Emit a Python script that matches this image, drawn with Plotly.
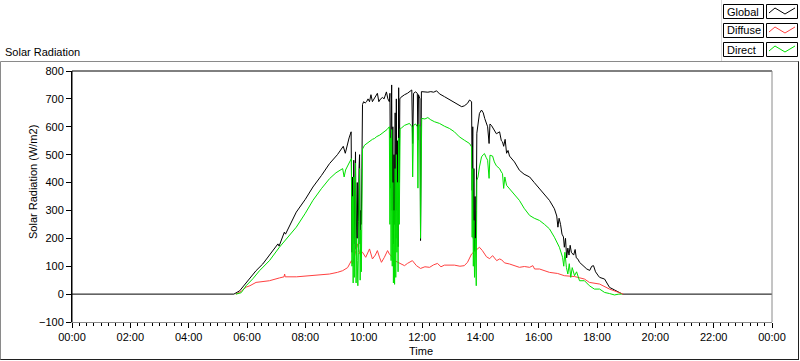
import plotly.graph_objects as go

# ---------------- data (hours of day, W/m2) ----------------
global_t = [0, 5.55, 5.75, 5.97, 6.31, 6.54, 6.77, 7.06, 7.1, 7.28, 7.32, 7.69, 8.0, 8.26, 8.55, 8.83, 9.1, 9.3, 9.37, 9.42, 9.5, 9.57,
            9.6, 9.62, 9.64, 9.66, 9.68, 9.7, 9.72, 9.74, 9.76, 9.78, 9.8, 9.82, 9.84, 9.86, 9.88, 9.9, 9.92, 9.94, 9.96,
            10.0, 10.05, 10.1, 10.15, 10.2, 10.25, 10.3, 10.35, 10.4, 10.47, 10.52, 10.58, 10.65, 10.7, 10.78, 10.83, 10.88,
            10.9, 10.92, 10.94, 10.96, 10.98, 11.0, 11.02, 11.04, 11.06, 11.08, 11.1, 11.12, 11.14, 11.16, 11.18, 11.2, 11.22, 11.24,
            11.27, 11.32, 11.4, 11.5, 11.58, 11.65, 11.68, 11.71, 11.78, 11.84, 11.86, 11.88, 11.93, 11.95, 11.98,
            12.1, 12.2, 12.3, 12.4, 12.5, 12.6, 12.77, 12.9, 13.0, 13.11, 13.25, 13.36, 13.45, 13.56, 13.63,
            13.7, 13.72, 13.74, 13.76, 13.78, 13.8, 13.82, 13.84, 13.86, 13.88, 13.92, 13.97, 14.04, 14.1, 14.15, 14.2, 14.25,
            14.3, 14.33, 14.38, 14.48, 14.55, 14.66, 14.72, 14.76, 14.8, 14.85, 14.9, 14.95, 15.0, 15.17, 15.34, 15.5, 15.69,
            15.85, 16.03, 16.2, 16.37, 16.54, 16.62, 16.66, 16.7, 16.75, 16.8, 16.85, 16.88, 16.92, 16.96, 17.0, 17.04, 17.08,
            17.12, 17.2, 17.25, 17.29, 17.35, 17.4, 17.5, 17.57, 17.65, 17.75, 17.82, 17.88, 17.95, 18.05, 18.09, 18.26, 18.35,
            18.43, 18.6, 18.77, 18.87, 24]
global_v = [0, 0, 12, 42, 84, 108, 138, 180, 172, 222, 215, 294, 340, 384, 425, 468, 500, 530, 505, 530, 560, 582,
            150, 420, 200, 480, 180, 350, 510, 160, 300, 400, 200, 260, 450, 500, 180, 300, 250, 420, 680,
            690, 685, 690, 700, 690, 715, 690, 700, 705, 720, 690, 700, 705, 700, 725, 700, 690,
            720, 380, 740, 750, 300, 600, 180, 500, 250, 650, 200, 700, 300, 550, 170, 740, 400, 700,
            705, 710, 715, 720, 725, 732, 540, 720, 725, 720, 552, 715, 700, 192, 726,
            725, 724, 726, 724, 729, 718, 708, 700, 695, 690, 680, 672, 675, 684, 696,
            690, 372, 600, 200, 450, 156, 350, 180, 300, 577, 610, 648, 660, 650, 630, 612, 600,
            540, 610, 605, 588, 575, 582, 550, 546, 530, 555, 505, 515, 495, 474, 444, 430, 420,
            400, 378, 358, 336, 306, 280, 240, 272, 250, 215, 205, 168, 200, 130, 165, 140, 175,
            150, 140, 160, 130, 125, 114, 105, 96, 90, 85, 100, 102, 80, 65, 60, 54, 40,
            24, 15, 5, 0, 0]

diffuse_t = [5.62, 5.8, 5.97, 6.1, 6.31, 6.77, 7.11, 7.27, 7.29, 7.31, 7.7, 8.25, 8.83, 9.1, 9.28, 9.45, 9.51, 9.58, 9.62, 9.69,
             9.74, 9.79, 9.83, 9.86, 9.96, 10.07, 10.2, 10.3, 10.4, 10.47, 10.55, 10.61, 10.71, 10.82, 10.88, 10.99, 11.06,
             11.16, 11.3, 11.4, 11.5, 11.67, 11.81, 11.95, 12.1, 12.26, 12.4, 12.53, 12.65, 12.77, 13.11, 13.3, 13.45, 13.56,
             13.7, 13.83, 13.97, 14.07, 14.21, 14.32, 14.42, 14.56, 14.66, 14.73, 14.83, 15.0, 15.17, 15.34, 15.51, 15.69,
             15.8, 15.86, 16.03, 16.37, 16.65, 16.88, 17.23, 17.57, 17.74, 18.09, 18.43, 18.77, 18.9]
diffuse_v = [0, 10, 25, 30, 42, 48, 58, 62, 72, 62, 62, 66, 72, 78, 84, 95, 108, 120, 108, 138,
             165, 180, 160, 145, 150, 132, 162, 126, 140, 156, 130, 114, 132, 156, 144, 132, 120,
             114, 108, 102, 110, 120, 102, 92, 98, 96, 105, 110, 98, 104, 104, 100, 102, 114,
             144, 156, 168, 156, 134, 127, 138, 120, 126, 123, 112, 108, 102, 96, 99, 96,
             102, 90, 90, 78, 74, 66, 63, 54, 42, 36, 18, 4, 0]

direct_t = [5.62, 5.8, 5.97, 6.2, 6.43, 6.77, 7.11, 7.4, 7.69, 8.0, 8.26, 8.55, 8.83, 9.05, 9.28, 9.33, 9.38, 9.5, 9.58,
            9.6, 9.62, 9.64, 9.66, 9.68, 9.7, 9.72, 9.74, 9.76, 9.78, 9.8, 9.82, 9.84, 9.86, 9.88, 9.9, 9.92, 9.94, 9.96,
            10.03, 10.1, 10.2, 10.3, 10.37, 10.45, 10.55, 10.62, 10.71, 10.8, 10.88,
            10.9, 10.92, 10.94, 10.96, 10.98, 11.0, 11.02, 11.04, 11.06, 11.08, 11.1, 11.12, 11.14, 11.16, 11.18, 11.2, 11.22,
            11.25, 11.3, 11.4, 11.5, 11.57, 11.62, 11.66, 11.68, 11.71, 11.78, 11.84, 11.86, 11.88, 11.93, 11.95, 11.99,
            12.1, 12.2, 12.3, 12.43, 12.6, 12.77, 12.94, 13.11, 13.28, 13.45, 13.63, 13.7,
            13.72, 13.74, 13.76, 13.78, 13.8, 13.83, 13.86, 13.88, 13.92, 13.97, 14.04, 14.1, 14.14, 14.2, 14.25, 14.3, 14.33,
            14.42, 14.48, 14.55, 14.66, 14.72, 14.76, 14.8, 14.84, 14.9, 15.0, 15.17, 15.34, 15.5, 15.69, 15.85, 16.03, 16.2,
            16.37, 16.54, 16.71, 16.82, 16.86, 16.9, 16.95, 17.0, 17.05, 17.1, 17.15, 17.23, 17.3, 17.4, 17.57, 17.74, 17.91,
            18.09, 18.26, 18.43, 18.6, 18.75, 18.85]
direct_v = [0, 5, 30, 55, 84, 120, 168, 205, 240, 290, 336, 378, 414, 435, 450, 420, 445, 470, 486,
            100, 350, 40, 420, 60, 250, 470, 40, 200, 120, 30, 150, 380, 450, 50, 230, 80, 300, 520,
            534, 540, 548, 555, 558, 565, 570, 575, 582, 590, 600,
            250, 560, 120, 590, 100, 400, 40, 300, 35, 450, 60, 500, 150, 400, 80, 560, 250,
            594, 596, 605, 610, 612, 605, 600, 420, 605, 610, 600, 380, 610, 600, 200, 630,
            628, 633, 625, 618, 612, 602, 594, 582, 564, 552, 540, 528,
            204, 450, 100, 264, 60, 200, 30, 408, 420, 456, 492, 500, 504, 490, 480, 415, 498,
            495, 474, 460, 450, 438, 432, 379, 420, 390, 378, 360, 336, 308, 282, 272, 264, 250,
            234, 204, 168, 132, 100, 150, 96, 72, 109, 60, 95, 66, 80, 48, 48, 30, 18,
            18, 6, 2, -3, 0, 0]

tick_hours = list(range(0, 25, 2))
tick_labels = ["00:00", "02:00", "04:00", "06:00", "08:00", "10:00", "12:00",
               "14:00", "16:00", "18:00", "20:00", "22:00", "00:00"]

# ---------------- figure ----------------
W, H = 800, 361
L, R, T, B = 72, 772, 71, 322
FONT = "Liberation Sans, Arial, sans-serif"


def px(x):
    return (x - L) / (R - L)


def py(y):
    return (B - y) / (B - T)


fig = go.Figure()
fig.add_trace(go.Scatter(x=global_t, y=global_v, mode="lines", name="Global",
                         line=dict(color="#000000", width=1)))
fig.add_trace(go.Scatter(x=diffuse_t, y=diffuse_v, mode="lines", name="Diffuse",
                         line=dict(color="#ff4040", width=1)))
fig.add_trace(go.Scatter(x=direct_t, y=direct_v, mode="lines", name="Direct",
                         line=dict(color="#00e000", width=1)))

shapes = []
# plot area borders
shapes.append(dict(type="line", xref="paper", yref="paper", x0=0, x1=0, y0=0, y1=1, line=dict(color="#000000", width=1)))
shapes.append(dict(type="line", xref="paper", yref="paper", x0=0, x1=1, y0=1, y1=1, line=dict(color="#000000", width=1)))
shapes.append(dict(type="line", xref="paper", yref="paper", x0=1, x1=1, y0=0, y1=1, line=dict(color="#8a8a8a", width=1)))
# outer frame
shapes.append(dict(type="line", xref="paper", yref="paper", x0=px(0.5), x1=px(799), y0=py(61.5), y1=py(61.5), line=dict(color="#8a8a8a", width=1)))
shapes.append(dict(type="line", xref="paper", yref="paper", x0=px(0.5), x1=px(0.5), y0=py(61.5), y1=py(360), line=dict(color="#8a8a8a", width=1)))
shapes.append(dict(type="line", xref="paper", yref="paper", x0=px(0.5), x1=px(799), y0=py(359.5), y1=py(359.5), line=dict(color="#202020", width=1)))
shapes.append(dict(type="line", xref="paper", yref="paper", x0=px(798.5), x1=px(798.5), y0=py(61.5), y1=py(360), line=dict(color="#202020", width=1)))
# legend panel edge
shapes.append(dict(type="line", xref="paper", yref="paper", x0=px(721.5), x1=px(721.5), y0=py(0), y1=py(61), line=dict(color="#d8d8d8", width=1)))

annotations = []
legend_names = ["Global", "Diffuse", "Direct"]
legend_colors = ["#000000", "#ff4040", "#00e000"]
legend_tops = [4, 23, 42]
for name, col, top in zip(legend_names, legend_colors, legend_tops):
    shapes.append(dict(type="rect", xref="paper", yref="paper", x0=px(723.5), x1=px(763.5), y0=py(top + 0.5), y1=py(top + 14.5),
                       line=dict(color="#000000", width=1), fillcolor="#ffffff"))
    shapes.append(dict(type="rect", xref="paper", yref="paper", x0=px(766.5), x1=px(797.5), y0=py(top + 0.5), y1=py(top + 14.5),
                       line=dict(color="#000000", width=1), fillcolor="#ffffff"))
    pts = [(769, top + 9), (775, top + 4), (785, top + 10), (795, top + 4)]
    path = "M " + " L ".join(f"{px(a):.5f},{py(b):.5f}" for a, b in pts)
    shapes.append(dict(type="path", xref="paper", yref="paper", path=path, line=dict(color=col, width=1)))
    annotations.append(dict(xref="paper", yref="paper", x=px(725), y=py(top + 7.5), text=name, showarrow=False,
                            xanchor="left", yanchor="middle", font=dict(family=FONT, size=11, color="#000000")))

annotations.append(dict(xref="paper", yref="paper", x=px(3), y=py(52), text="Solar Radiation", showarrow=False,
                        xanchor="left", yanchor="middle", font=dict(family=FONT, size=11, color="#000000")))
annotations.append(dict(xref="paper", yref="paper", x=px(33), y=py(182), text="Solar Radiation (W/m2)", showarrow=False,
                        textangle=-90, xanchor="center", yanchor="middle", font=dict(family=FONT, size=11, color="#000000")))
annotations.append(dict(xref="paper", yref="paper", x=px(421), y=py(351), text="Time", showarrow=False,
                        xanchor="center", yanchor="middle", font=dict(family=FONT, size=11, color="#000000")))

fig.update_layout(
    width=W, height=H,
    margin=dict(l=L, r=W - R, t=T, b=H - B, pad=0),
    paper_bgcolor="#ffffff", plot_bgcolor="#ffffff",
    showlegend=False,
    font=dict(family=FONT, size=11, color="#000000"),
    shapes=shapes, annotations=annotations,
    xaxis=dict(range=[0, 24], tickvals=tick_hours, ticktext=tick_labels, showgrid=False, zeroline=False,
               showline=True, linecolor="#8a8a8a", linewidth=1, ticks="outside", ticklen=5, tickcolor="#000000",
               tickfont=dict(family=FONT, size=11, color="#000000"),
               minor=dict(dtick=0.25, ticks="outside", ticklen=3, tickcolor="#000000", showgrid=False)),
    yaxis=dict(range=[-100, 800], dtick=100, showgrid=False, zeroline=False,
               showline=True, linecolor="#000000", linewidth=1, ticks="outside", ticklen=5, tickcolor="#000000",
               tickfont=dict(family=FONT, size=11, color="#000000")),
)

fig.write_html("out.html", config={"displayModeBar": False},
               post_script="document.body.style.margin='0';document.body.style.overflow='hidden';")
